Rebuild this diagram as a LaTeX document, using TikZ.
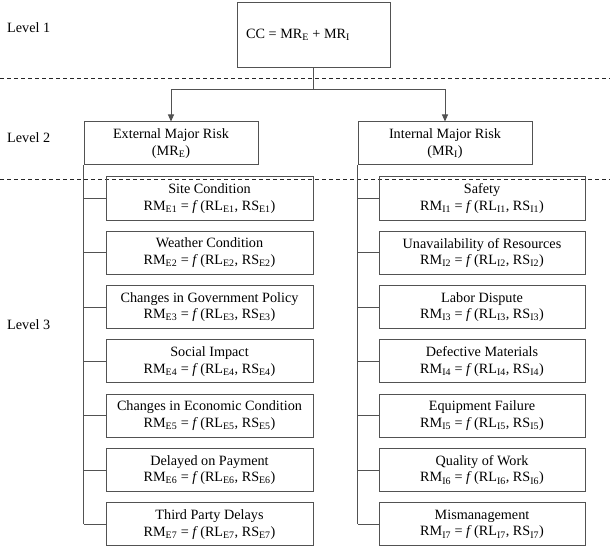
\documentclass[tikz,border=0pt]{standalone}
\usepackage{fontspec}
\setmainfont{Liberation Serif}
\usetikzlibrary{arrows.meta,calc}
\newcommand{\rmfx}[1]{RM\textsubscript{#1} = \textit{f}\,(RL\textsubscript{#1}, RS\textsubscript{#1})}
\tikzset{
  txt/.style={font=\fontsize{14.2bp}{16.5bp}\selectfont, inner sep=0pt},
  box/.style={txt, draw=black!68, line width=1bp, align=center},
  lvbox/.style={box, minimum width=207bp, minimum height=43bp},
  mrbox/.style={box, minimum width=174bp, minimum height=43bp},
  conn/.style={draw=black!68, line width=1bp},
  arr/.style={conn, -{Triangle[width=6bp,length=7bp]}},
  sep/.style={draw=black!85, line width=0.9bp, dash pattern=on 4bp off 3bp},
  lvl/.style={txt, anchor=west}
}
\begin{document}
\begin{tikzpicture}[x=1bp,y=-1bp]
\useasboundingbox (0,0) rectangle (610,550);
% separators
\coordinate (s1a) at (0,78); \coordinate (s1b) at (610,78);
\coordinate (s2a) at (0,179); \coordinate (s2b) at (610,179);
\draw[sep] (s1a) -- (s1b);
\draw[sep] (s2a) -- (s2b);
% level labels
\node[lvl] (l1) at (7,28) {Level 1};
\node[lvl] (l2) at (7,138) {Level 2};
\node[lvl] (l3) at (7,325) {Level 3};
% top
\node[box, minimum width=153bp, minimum height=65bp] (top) at (313.5,35.5) {};
\node[txt, anchor=west] (cc) at (246,35) {CC = MR\textsubscript{E} + MR\textsubscript{I}};
% level 2
\node[mrbox] (ext) at (171,143.5) {External Major Risk\\(MR\textsubscript{E})};
\node[mrbox] (int) at (445,143.5) {Internal Major Risk\\(MR\textsubscript{I})};
\coordinate (j) at (313.5,90);
\draw[conn] (top.south) -- (j);
\draw[arr] (j) -| (ext.north);
\draw[arr] (j) -| (int.north);
% level 3 external
\foreach \i/\t in {1/Site Condition,2/Weather Condition,3/Changes in Government Policy,4/Social Impact,5/Changes in Economic Condition,6/Delayed on Payment,7/Third Party Delays}{
  \node[lvbox] (e\i) at (209.5,{198.5+54.33*(\i-1)}) {\t\\\rmfx{E\i}};
  \draw[conn] (ext.south west |- e\i.west) -- (e\i.west);
}
\foreach \i/\t in {1/Safety,2/Unavailability of Resources,3/Labor Dispute,4/Defective Materials,5/Equipment Failure,6/Quality of Work,7/Mismanagement}{
  \node[lvbox, minimum width=206bp] (i\i) at (482,{198.5+54.33*(\i-1)}) {\t\\\rmfx{I\i}};
  \draw[conn] (int.south west |- i\i.west) -- (i\i.west);
}
\draw[conn] (ext.south west) -- (ext.south west |- e7.west);
\draw[conn] (int.south west) -- (int.south west |- i7.west);
\end{tikzpicture}
\end{document}
